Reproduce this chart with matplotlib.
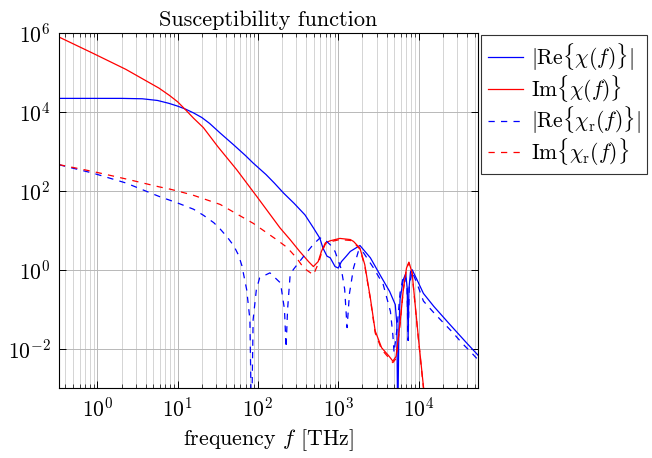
import matplotlib
matplotlib.use("Agg")
import matplotlib.pyplot as plt
import matplotlib.ticker as mticker

# values (frequency in THz)
f_re = [0.333, 2.0, 3.63, 5.6, 7.76, 10, 12.6, 15.8, 20, 25, 33.9, 50, 70, 87.1, 126,
        160, 209, 282, 385, 490, 589, 646, 724, 794, 912, 1000, 1096, 1259, 1413, 1862,
        2512, 3311, 4365, 5129, 5370, 5500, 5689, 5888, 6457, 6918, 7244, 7413, 7586,
        7943, 8318, 9550, 11500, 15500, 24500, 39800, 55000]
re_abs = [2.2e4, 2.2e4, 2.15e4, 1.95e4, 1.65e4, 1.4e4, 1.17e4, 9.4e3, 7.2e3, 5.1e3,
          2.9e3, 1.45e3, 780, 505, 258, 157, 87, 48, 24.5, 11.5, 6.3, 3.5, 2.2, 2.0, 1.2,
          1.1, 1.6, 2.2, 2.9, 4.1, 2.0, 0.74, 0.28, 0.13, 0.041, 1e-4, 0.032, 0.18, 0.56,
          0.79, 0.32, 0.017, 0.32, 0.89, 1.0, 0.56, 0.25, 0.117, 0.041, 0.0138, 0.0068]

f_im = [0.333, 0.87, 2.26, 5.86, 7.94, 10, 12.6, 15.8, 20.9, 31.6, 54.5, 96.6, 188, 251,
        331, 427, 490, 562, 617, 692, 794, 1047, 1413, 1549, 1862, 2138, 2512, 2884,
        3467, 4266, 4786, 5248, 5888, 6457, 7079, 7586, 8318, 9120, 10000, 11500, 12600]
im = [7.9e5, 3.1e5, 1.2e5, 4.0e4, 2.6e4, 1.8e4, 1.12e4, 6.9e3, 4.0e3, 1.32e3, 340, 72,
      11.5, 5.8, 2.9, 1.6, 1.2, 1.6, 2.9, 4.8, 5.4, 6.2, 5.8, 5.2, 3.5, 1.35, 0.19,
      0.028, 0.0105, 0.0065, 0.0048, 0.0063, 0.045, 0.31, 1.1, 1.55, 0.83, 0.117,
      0.017, 0.0011, 3e-4]

f_re_r = [0.333, 0.87, 2.26, 5.86, 10, 15.8, 20.9, 28.2, 33.9, 41.7, 50.1, 57.5, 63.1,
          72.4, 79.4, 83.2, 87.1, 95.5, 105, 141, 191, 214, 224, 234, 251, 275, 372,
          490, 589, 646, 794, 912, 1096, 1202, 1288, 1380, 1549, 1778, 1950, 2754,
          3631, 4467, 4786, 4955, 5370, 5888, 6457, 6761, 7161, 7413, 7674, 8318,
          9550, 11500, 15500, 20400, 26900, 34700, 45700, 55000]
re_r_abs = [457, 282, 158, 72, 49, 34, 24, 15.5, 10.7, 6.6, 4.0, 2.3, 1.26, 0.31,
            0.054, 1e-4, 0.054, 0.31, 0.62, 0.83, 0.46, 0.098, 0.0105, 0.1, 0.68, 1.0,
            2.2, 4.4, 6.3, 6.3, 4.3, 2.9, 1.0, 0.32, 0.034, 0.25, 1.1, 2.9, 3.2, 1.1,
            0.42, 0.087, 0.022, 0.0079, 0.03, 0.26, 0.68, 0.74, 0.4, 0.016, 0.4, 0.89,
            0.45, 0.16, 0.081, 0.045, 0.025, 0.0138, 0.0078, 0.0052]

f_im_r = [0.333, 0.87, 2.26, 5.86, 8.04, 15.1, 33.9, 87.1, 170, 229, 302, 372, 490, 562,
          617, 692, 794, 1047, 1413, 1549, 1862, 2138, 2512, 2884, 3467, 4266, 4786,
          5248, 5888, 6457, 7079, 7586, 8318, 9120, 10000, 11500, 12600]
im_r = [460, 310, 200, 126, 110, 79, 45, 15, 5.8, 3.7, 2.0, 1.1, 0.74, 1.4, 2.6, 4.5,
        5.1, 5.8, 5.5, 5.0, 3.3, 1.26, 0.18, 0.025, 0.0095, 0.0058, 0.0044, 0.0056,
        0.042, 0.30, 1.05, 1.5, 0.79, 0.11, 0.016, 0.001, 3e-4]

x_ticks = [1, 10, 100, 1e3, 1e4]
y_ticks = [1e-2, 1, 1e2, 1e4, 1e6]

labels = [r"$|\mathrm{Re}\{\chi(f)\}|$", r"$\mathrm{Im}\{\chi(f)\}$",
          r"$|\mathrm{Re}\{\chi_\mathrm{r}(f)\}|$", r"$\mathrm{Im}\{\chi_\mathrm{r}(f)\}$"]

plt.rcParams["font.family"] = "cmr10"
plt.rcParams["mathtext.fontset"] = "cm"
plt.rcParams["axes.formatter.use_mathtext"] = True
plt.rcParams["font.size"] = 15

fig = plt.figure(figsize=(6.52, 4.58), dpi=100)
ax = fig.add_axes([59 / 652, 1 - 388 / 458, 419 / 652, 355 / 458])

lw = 0.9
ax.plot(f_re, re_abs, color="blue", lw=lw, label=labels[0])
ax.plot(f_im, im, color="red", lw=lw, label=labels[1])
ax.plot(f_re_r, re_r_abs, color="blue", lw=lw, dashes=(5, 5), label=labels[2])
ax.plot(f_im_r, im_r, color="red", lw=lw, dashes=(5, 5), label=labels[3])

ax.set_xscale("log")
ax.set_yscale("log")
ax.set_xlim(0.333, 5.5e4)
ax.set_ylim(1e-3, 1e6)
ax.xaxis.set_major_locator(mticker.FixedLocator(x_ticks))
ax.yaxis.set_major_locator(mticker.FixedLocator(y_ticks))
ax.xaxis.set_major_formatter(mticker.LogFormatterSciNotation())
ax.yaxis.set_major_formatter(mticker.LogFormatterSciNotation())
ax.yaxis.set_minor_locator(mticker.NullLocator())
ax.xaxis.set_minor_locator(mticker.LogLocator(base=10, subs=range(2, 10), numticks=20))
ax.xaxis.set_minor_formatter(mticker.NullFormatter())

ax.grid(True, which="major", color="#b8b8b8", lw=0.7)
ax.grid(True, which="minor", axis="x", color="#d4d4d4", lw=0.7)
ax.set_axisbelow(True)

ax.tick_params(which="both", direction="in", top=True, right=True, labelsize=15.5)
ax.tick_params(which="major", length=5, width=0.7, pad=6)
ax.tick_params(which="minor", length=3, width=0.5)
for s in ax.spines.values():
    s.set_linewidth(0.8)

ax.set_title("Susceptibility function", fontsize=16, pad=5)
ax.set_xlabel(r"frequency $f$ [THz]", fontsize=15.8, labelpad=5)

leg = ax.legend(loc="upper left", bbox_to_anchor=(1.008, 0.995), borderaxespad=0,
                fontsize=15.5, fancybox=False, framealpha=1, edgecolor="#333333",
                handlelength=1.65, handletextpad=0.35, labelspacing=0.0, borderpad=0.3)
leg.get_frame().set_linewidth(0.8)

fig.savefig("out.png", dpi=100)
